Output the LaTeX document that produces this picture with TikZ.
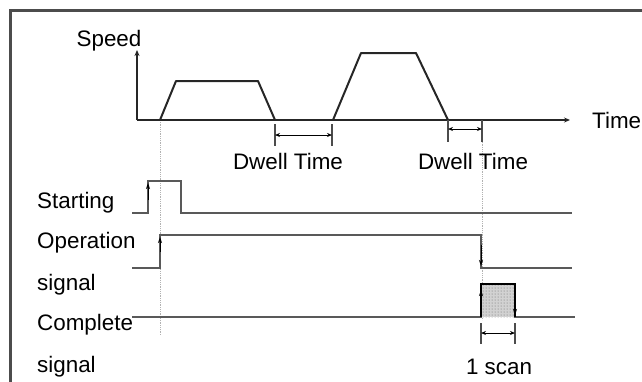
\documentclass[tikz,border=0pt]{standalone}
\usepackage{fontspec}
\setmainfont{Liberation Sans}
\usetikzlibrary{arrows.meta,patterns}
\begin{document}
\begin{tikzpicture}[x=1pt,y=-1pt,
  lbl/.style={font=\fontsize{22.4}{24}\selectfont, inner sep=0pt},
  axis/.style={line width=2pt, black!85},
  sig/.style={line width=1.8pt, black!65},
  tip/.style={-{Stealth[length=6pt,width=4pt]}, line width=1pt, black},
  dim/.style={{Stealth[length=5pt,width=4pt]}-{Stealth[length=5pt,width=4pt]}, line width=1pt, black},
  tick/.style={line width=1.4pt, black!70},
  guide/.style={line width=0.8pt, gray!60, densely dotted}]
\useasboundingbox (0,0) rectangle (642,381);
% frame
\draw[line width=3pt, black!70] (10,395) -- (10,10) -- (650,10);
% guides
\draw[guide] (160,120) -- (160,335);
\draw[guide] (482,140) -- (482,320);
% axes
\coordinate (O) at (137,120);
\coordinate (ytip) at (137,50);
\coordinate (xtip) at (570,120);
\draw[axis, -{Stealth[length=6pt,width=5pt]}] (O) -- (ytip);
\draw[axis, -{Stealth[length=6pt,width=5pt]}] (O) -- (xtip);
\node[lbl, anchor=south] (speed) at (109,51) {Speed};
\node[lbl, anchor=west] (time) at (592,120) {Time};
% speed profile
\draw[axis, line join=round] (160,120) -- (176,81) -- (258,81) -- (275,120);
\draw[axis, line join=round] (333,120) -- (361,53) -- (416,53) -- (448,120);
% dwell time 1
\draw[tick] (275,124) -- (275,146);
\draw[tick] (332,124) -- (332,146);
\draw[dim] (275,135) -- (332,135);
\node[lbl] (dw1) at (288,161) {Dwell Time};
% dwell time 2
\draw[tick] (448,120) -- (448,142);
\draw[tick] (482,120) -- (482,142);
\draw[dim] (448,129) -- (482,129);
\node[lbl] (dw2) at (473,161) {Dwell Time};
% labels
\node[lbl, anchor=west] (st) at (37,203) {Starting};
\node[lbl, anchor=west] (op1) at (37,243) {Operation};
\node[lbl, anchor=west] (op2) at (37,285) {signal};
\node[lbl, anchor=west] (cp1) at (37,325) {Complete};
\node[lbl, anchor=west] (cp2) at (37,367) {signal};
% starting
\draw[sig] (132,213) -- (148,213) -- (148,181) -- (181,181) -- (181,213) -- (572,213);
\draw[tip] (148,200) -- (148,183);
% operation
\draw[sig] (132,268) -- (160,268) -- (160,235) -- (481,235) -- (481,268) -- (572,268);
\draw[tip] (160,252) -- (160,237);
\draw[tip] (481,245) -- (481,266);
% complete
\fill[gray!35] (481,284) rectangle (515,317);
\fill[pattern=dots, pattern color=black!60] (481,284) rectangle (515,317);
\draw[sig] (132,317) -- (481,317) -- (481,284) -- (515,284) -- (515,317) -- (575,317);
\draw[line width=1.4pt, black] (481,317) -- (481,284) -- (515,284) -- (515,317);
\draw[tip] (481,305) -- (481,290);
\draw[tip] (515,300) -- (515,315);
% 1 scan
\draw[tick] (481,323) -- (481,344);
\draw[tick] (515,323) -- (515,344);
\draw[dim] (481,333) -- (515,333);
\node[lbl] (scan) at (499,367) {1 scan};
\end{tikzpicture}
\end{document}
